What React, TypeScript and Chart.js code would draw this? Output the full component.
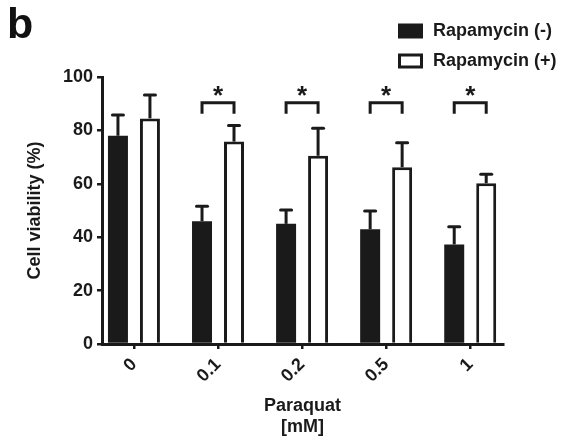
import React, { useEffect, useRef } from 'react';
import { Chart, registerables } from 'chart.js';

Chart.register(...registerables);

// ---- data ----
const categories = ['0', '0.1', '0.2', '0.5', '1'];
const seriesLabels = ['Rapamycin (-)', 'Rapamycin (+)'];
const rapamycinMinus = [78, 46, 45, 43, 37.3];
const rapamycinMinusSD = [7.8, 5.6, 5.2, 6.8, 6.6];
const rapamycinPlus = [84.5, 75.8, 70.5, 66.2, 60.2];
const rapamycinPlusSD = [8.8, 6, 10.3, 9.2, 3.4];
const significantGroups = [1, 2, 3, 4];
const significanceMark = '*';
const bracketTop = 90.4;
const bracketLegBottom = 86.2;
const yTitle = 'Cell viability (%)';
const xTitle = ['Paraquat', '[mM]'];
const panelLabel = 'b';

const INK = '#1a1a1a';
const FONT = "'Liberation Sans', Arial, Helvetica, sans-serif";

const overlayPlugin = {
  id: 'overlay',
  afterDatasetsDraw(chart: any) {
    const ctx = chart.ctx as CanvasRenderingContext2D;
    const y = chart.scales.y;
    const sds = [rapamycinMinusSD, rapamycinPlusSD];
    const vals = [rapamycinMinus, rapamycinPlus];
    ctx.save();
    ctx.strokeStyle = INK;
    ctx.lineWidth = 3;
    chart.data.datasets.forEach((_ds: any, di: number) => {
      const meta = chart.getDatasetMeta(di);
      meta.data.forEach((bar: any, i: number) => {
        const topPx = y.getPixelForValue(vals[di][i] + sds[di][i]);
        ctx.lineCap = 'butt';
        ctx.beginPath();
        ctx.moveTo(bar.x, bar.y);
        ctx.lineTo(bar.x, topPx);
        ctx.stroke();
        ctx.lineCap = 'round';
        ctx.beginPath();
        ctx.moveTo(bar.x - 5.5, topPx);
        ctx.lineTo(bar.x + 5.5, topPx);
        ctx.stroke();
      });
    });
    // significance brackets
    const m0 = chart.getDatasetMeta(0);
    const m1 = chart.getDatasetMeta(1);
    const topPx = y.getPixelForValue(bracketTop);
    const legPx = y.getPixelForValue(bracketLegBottom);
    ctx.lineCap = 'butt';
    ctx.lineJoin = 'miter';
    ctx.font = `bold 26px ${FONT}`;
    ctx.fillStyle = INK;
    ctx.textAlign = 'center';
    ctx.textBaseline = 'alphabetic';
    const mt = ctx.measureText(significanceMark);
    const vOff = (mt.actualBoundingBoxAscent - mt.actualBoundingBoxDescent) / 2;
    significantGroups.forEach((g) => {
      const l = m0.data[g].x;
      const r = m1.data[g].x;
      ctx.beginPath();
      ctx.moveTo(l, legPx);
      ctx.lineTo(l, topPx);
      ctx.lineTo(r, topPx);
      ctx.lineTo(r, legPx);
      ctx.stroke();
      ctx.fillText(significanceMark, (l + r) / 2, topPx - 12 + vOff);
    });
    ctx.restore();
  },
  afterDraw(chart: any) {
    const ctx = chart.ctx as CanvasRenderingContext2D;
    ctx.save();
    // panel label
    ctx.fillStyle = '#111';
    ctx.font = `bold 43px ${FONT}`;
    ctx.textAlign = 'left';
    ctx.textBaseline = 'alphabetic';
    ctx.fillText(panelLabel, 7, 38);
    // legend
    const rows = [31, 61];
    ctx.font = `bold 18px ${FONT}`;
    chart.data.datasets.forEach((ds: any, i: number) => {
      const cy = rows[i];
      if (i === 0) {
        ctx.fillStyle = INK;
        ctx.fillRect(398, cy - 7.5, 25, 15);
      } else {
        ctx.fillStyle = '#fff';
        ctx.fillRect(398, cy - 7.5, 25, 15);
        ctx.strokeStyle = INK;
        ctx.lineWidth = 3;
        ctx.strokeRect(399.5, cy - 6, 22, 12);
      }
      ctx.fillStyle = INK;
      ctx.fillText(ds.label, 433, cy + 5);
    });
    ctx.restore();
  },
};

export default function App() {
  const ref = useRef<HTMLCanvasElement | null>(null);
  useEffect(() => {
    if (!ref.current) return;
    const tickFont = { family: FONT, size: 18, weight: 'bold' as const };
    const chart = new Chart(ref.current, {
      type: 'bar',
      data: {
        datasets: [
          {
            label: seriesLabels[0],
            data: categories.map((_, i) => ({ x: i, y: rapamycinMinus[i] })),
            backgroundColor: INK,
            borderWidth: 0,
            barPercentage: 0.625,
            categoryPercentage: 0.761,
          },
          {
            label: seriesLabels[1],
            data: categories.map((_, i) => ({ x: i, y: rapamycinPlus[i] })),
            backgroundColor: '#ffffff',
            borderColor: INK,
            borderWidth: 3,
            barPercentage: 0.625,
            categoryPercentage: 0.761,
          },
        ],
      } as any,
      options: {
        animation: false,
        responsive: false,
        events: [],
        layout: { padding: { top: 77, right: 65, bottom: 0, left: 0 } },
        plugins: { legend: { display: false }, tooltip: { enabled: false } },
        scales: {
          x: {
            type: 'linear',
            bounds: 'data',
            offset: false,
            min: -0.38,
            max: 4.39,
            afterBuildTicks: (s: any) => {
              s.ticks = categories.map((_, i) => ({ value: i }));
            },
            afterFit: (s: any) => {
              s.height = 94;
            },
            ticks: {
              autoSkip: false,
              includeBounds: false,
              minRotation: 45,
              maxRotation: 45,
              padding: 5,
              color: INK,
              font: tickFont,
              callback: (v: any) => categories[Math.round(Number(v))] ?? '',
            },
            grid: { display: true, offset: false, drawOnChartArea: false, drawTicks: true, tickLength: 5, lineWidth: 2.5, color: INK },
            border: { display: true, width: 3, color: INK },
            title: { display: true, text: xTitle, color: INK, font: { ...tickFont, lineHeight: 1.15 }, padding: { top: 0, bottom: 1 } },
          },
          y: {
            min: 0,
            max: 100,
            afterFit: (s: any) => {
              s.width = 102;
            },
            ticks: { stepSize: 20, padding: 4, color: INK, font: tickFont },
            grid: { display: true, drawOnChartArea: false, drawTicks: true, tickLength: 5, lineWidth: 2.5, color: INK },
            border: { display: true, width: 3, color: INK },
            title: { display: true, text: yTitle, color: INK, font: tickFont, padding: { top: 24, bottom: 0 } },
          },
        } as any,
      },
      plugins: [overlayPlugin],
    });
    return () => chart.destroy();
  }, []);
  return (
    <div style={{ position: 'fixed', left: 0, top: 0, width: 568, height: 438, background: '#fff' }}>
      <canvas ref={ref} width={568} height={438} />
    </div>
  );
}
